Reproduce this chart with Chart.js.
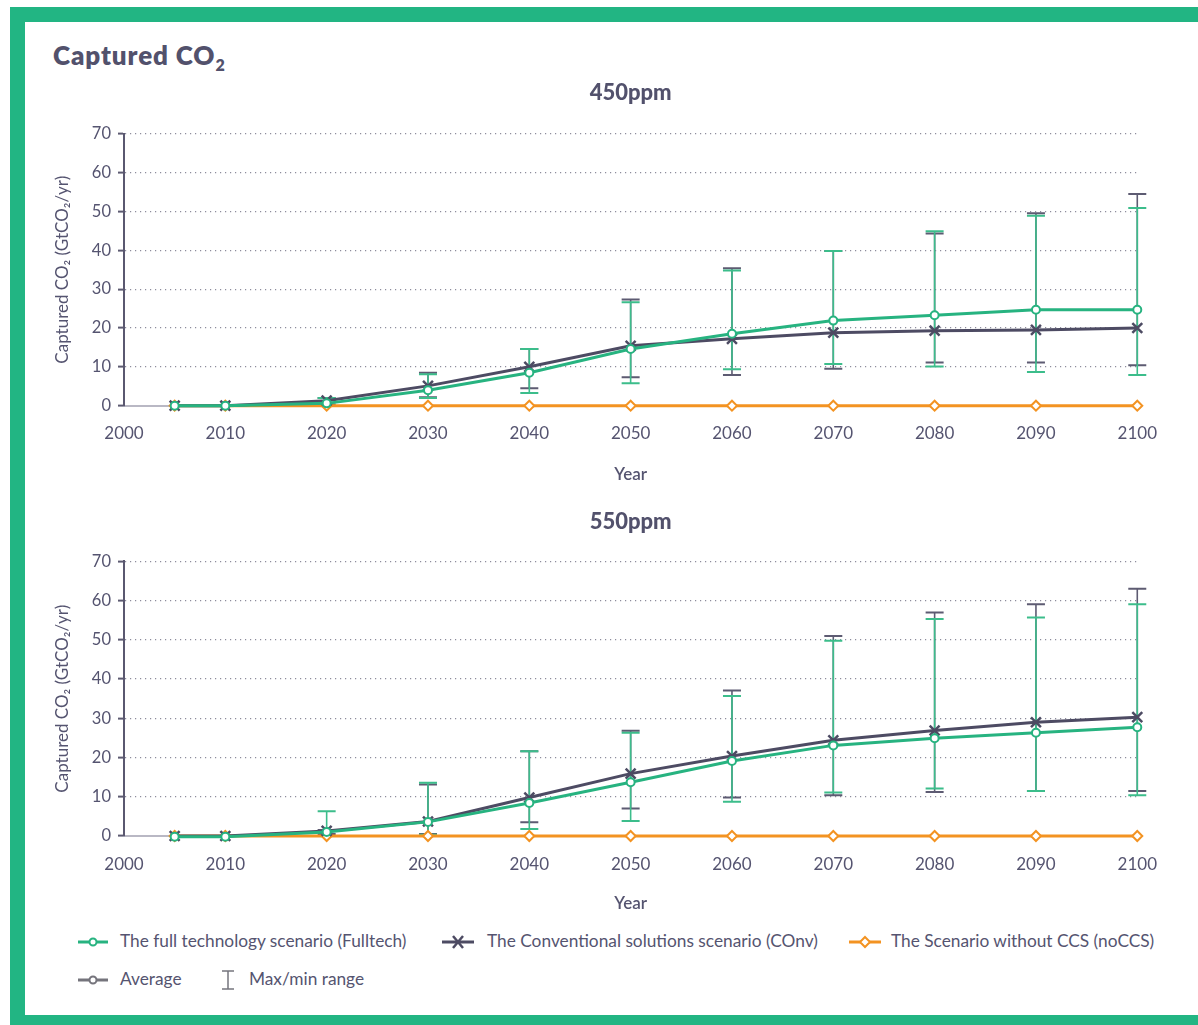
<!DOCTYPE html>
<html><head><meta charset="utf-8">
<script src="https://cdn.jsdelivr.net/npm/chart.js@4.4.1/dist/chart.umd.min.js"></script>
<style>
html,body{margin:0;padding:0;background:#fff;}
body{width:1198px;height:1025px;position:relative;overflow:hidden;font-family:Lato,"Noto Sans",sans-serif;color:#555470;}
#frame{position:absolute;left:10px;top:7px;width:1200px;height:1030px;background:#22b583;}
#inner{position:absolute;left:25px;top:22px;width:1190px;height:993px;background:#fff;}
#mainTitle{position:absolute;left:53px;top:38px;font-weight:800;font-size:26px;letter-spacing:0.9px;line-height:34px;color:#52516c;white-space:nowrap;}
#mainTitle sub{font-size:16px;vertical-align:-6px;line-height:0;}
canvas{position:absolute;}
.lg{position:absolute;font-size:17.3px;line-height:20px;white-space:nowrap;color:#555470;}
.ic{position:absolute;}
</style></head>
<body>
<div id="frame"></div>
<div id="inner"></div>
<div id="mainTitle">Captured CO<sub>2</sub></div>
<canvas id="c450" width="1163" height="420" style="left:12px;top:70px;"></canvas>
<canvas id="c550" width="1163" height="420" style="left:12px;top:499px;"></canvas>

<svg class="ic" style="left:78px;top:932px" width="30" height="20"><line x1="0" y1="10" x2="30" y2="10" stroke="#27b380" stroke-width="3"/><circle cx="15" cy="10" r="3.5" fill="#fff" stroke="#27b380" stroke-width="2"/></svg>
<div class="lg" style="left:120px;top:931px">The full technology scenario (Fulltech)</div>
<svg class="ic" style="left:442px;top:932px" width="32" height="20"><line x1="0" y1="10" x2="32" y2="10" stroke="#4d4b63" stroke-width="3"/><line x1="11" y1="4" x2="21" y2="16" stroke="#4d4b63" stroke-width="2.5"/><line x1="21" y1="4" x2="11" y2="16" stroke="#4d4b63" stroke-width="2.5"/></svg>
<div class="lg" style="left:487px;top:931px">The Conventional solutions scenario (COnv)</div>
<svg class="ic" style="left:849px;top:932px" width="32" height="20"><line x1="0" y1="10" x2="32" y2="10" stroke="#f39322" stroke-width="3"/><polygon points="16,5 21,10 16,15 11,10" fill="#fff" stroke="#f39322" stroke-width="2"/></svg>
<div class="lg" style="left:891px;top:931px">The Scenario without CCS (noCCS)</div>
<svg class="ic" style="left:78px;top:970px" width="30" height="20"><line x1="0" y1="10" x2="30" y2="10" stroke="#75747c" stroke-width="3"/><circle cx="15" cy="10" r="3.5" fill="#fff" stroke="#75747c" stroke-width="2"/></svg>
<div class="lg" style="left:120px;top:969px">Average</div>
<svg class="ic" style="left:221px;top:969px" width="14" height="22"><line x1="7" y1="2" x2="7" y2="20" stroke="#75747c" stroke-width="1.5"/><line x1="1" y1="2" x2="13" y2="2" stroke="#75747c" stroke-width="1.5"/><line x1="1" y1="20" x2="13" y2="20" stroke="#75747c" stroke-width="1.5"/></svg>
<div class="lg" style="left:249px;top:969px">Max/min range</div>

<script>
// ---- data ----
const years = [2005, 2010, 2020, 2030, 2040, 2050, 2060, 2070, 2080, 2090, 2100];

const full450 = [0, 0, 0.6, 4.0, 8.5, 14.6, 18.5, 21.9, 23.3, 24.7, 24.7];
const conv450 = [0, 0, 1.3, 5.1, 10.0, 15.4, 17.2, 18.8, 19.3, 19.5, 20.0];
const nocc450 = [0, 0, 0, 0, 0, 0, 0, 0, 0, 0, 0];
const full450Max = [null, null, 2.0, 8.1, 14.6, 26.6, 34.8, 39.8, 44.9, 48.9, 50.9];
const full450Min = [null, null, 0.0, 2.0, 3.3, 5.8, 9.4, 10.7, 10.1, 8.7, 7.9];
const conv450Max = [null, null, 2.0, 8.5, 14.6, 27.3, 35.4, 39.8, 44.3, 49.5, 54.5];
const conv450Min = [null, null, 0.3, 2.2, 4.5, 7.3, 7.9, 9.5, 11.1, 11.1, 10.4];

const full550 = [-0.2, -0.2, 1.0, 3.6, 8.4, 13.7, 19.1, 23.1, 24.9, 26.3, 27.7];
const conv550 = [0, 0, 1.3, 3.7, 9.8, 15.9, 20.4, 24.4, 26.9, 29.0, 30.3];
const nocc550 = [0, 0, 0, 0, 0, 0, 0, 0, 0, 0, 0];
const full550Max = [null, null, 6.3, 13.6, 21.6, 26.3, 35.7, 49.8, 55.3, 55.7, 59.1];
const full550Min = [null, null, 0.0, 0.3, 1.8, 3.8, 8.7, 11.1, 12.1, 11.5, 10.4];
const conv550Max = [null, null, 1.5, 13.1, 21.6, 26.8, 37.1, 51.0, 57.0, 59.1, 63.0];
const conv550Min = [null, null, 0.5, 0.5, 3.5, 7.0, 9.8, 10.4, 11.2, 11.5, 11.5];

const yTicks = [0, 10, 20, 30, 40, 50, 60, 70];
const xTickYears = [2000, 2010, 2020, 2030, 2040, 2050, 2060, 2070, 2080, 2090, 2100];
const seriesNames = ['The full technology scenario (Fulltech)', 'The Conventional solutions scenario (COnv)', 'The Scenario without CCS (noCCS)'];
const yTitle = 'Captured CO\u2082 (GtCO\u2082/yr)';

// ---- styles ----
const GREEN = '#27b380', GREEN_BAR = '#3cbd8b', DARK = '#4d4b63', DARK_BAR = '#5d5b72', ORANGE = '#f39322', TEXT = '#555470';

const errorBars = {
  id: 'errorBars',
  beforeDatasetsDraw(chart, args, opts) {
    const {ctx, scales: {x, y}} = chart;
    const groups = opts.groups || [];
    ctx.save();
    groups.forEach(g => {
      ctx.strokeStyle = g.color;
      for (let i = 0; i < years.length; i++) {
        if (g.max[i] == null) continue;
        const px = x.getPixelForValue(years[i]);
        const yt = y.getPixelForValue(g.max[i]);
        const yb = y.getPixelForValue(g.min[i]);
        ctx.lineWidth = 1.6;
        ctx.beginPath(); ctx.moveTo(px, yt); ctx.lineTo(px, yb); ctx.stroke();
        ctx.lineWidth = 2;
        ctx.beginPath();
        ctx.moveTo(px - 9, yt); ctx.lineTo(px + 9, yt);
        ctx.moveTo(px - 9, yb); ctx.lineTo(px + 9, yb);
        ctx.stroke();
      }
    });
    ctx.restore();
  }
};

function pts(arr) { return years.map((yr, i) => ({x: yr, y: arr[i]})); }

function makeChart(id, title, full, conv, nocc, fMax, fMin, cMax, cMin, titlePad, xH, padB) {
  return new Chart(document.getElementById(id), {
    type: 'line',
    data: {
      datasets: [
        {label: seriesNames[0], data: pts(full), borderColor: GREEN, backgroundColor: '#fff', borderWidth: 3,
         pointStyle: 'circle', pointRadius: 4, pointBorderWidth: 2, pointBackgroundColor: '#fff', pointBorderColor: GREEN, clip: false},
        {label: seriesNames[1], data: pts(conv), borderColor: DARK, backgroundColor: DARK, borderWidth: 3,
         pointStyle: 'crossRot', pointRadius: 7, pointBorderWidth: 2.5, pointBorderColor: DARK, clip: false},
        {label: seriesNames[2], data: pts(nocc), borderColor: ORANGE, backgroundColor: '#fff', borderWidth: 3,
         pointStyle: 'rectRot', pointRadius: 5, pointBorderWidth: 2, pointBackgroundColor: '#fff', pointBorderColor: ORANGE, clip: false}
      ]
    },
    options: {
      responsive: false, animation: false, devicePixelRatio: 1,
      layout: {padding: {left: 0, right: 31, top: 0, bottom: padB}},
      plugins: {
        legend: {display: false}, tooltip: {enabled: false},
        title: {display: true, text: title, fullSize: false, color: '#52516c',
                font: {family: 'Lato', size: 22, weight: '900'}, padding: titlePad},
        errorBars: {groups: [
          {color: DARK_BAR, max: cMax, min: cMin},
          {color: GREEN_BAR, max: fMax, min: fMin}
        ]}
      },
      scales: {
        x: {
          type: 'linear', min: 2000, max: 2100,
          afterBuildTicks: s => { s.ticks = xTickYears.map(v => ({value: v})); },
          afterFit: s => { s.height = xH; },
          grid: {display: false, drawTicks: false},
          border: {display: true, color: '#b9b8c4', width: 2},
          ticks: {color: TEXT, font: {family: 'Lato', size: 17}, padding: 18, maxRotation: 0,
                  callback: v => String(v)},
          title: {display: true, text: 'Year', color: TEXT, font: {family: 'Lato', size: 17, weight: '600'}, padding: {top: 0, bottom: 0}}
        },
        y: {
          min: 0, max: 70,
          afterBuildTicks: s => { s.ticks = yTicks.map(v => ({value: v})); },
          afterFit: s => { s.width = 112; },
          grid: {color: '#8d8c9c', lineWidth: 1.2, drawTicks: true, tickLength: 6, tickColor: DARK_BAR, tickWidth: 2, tickBorderDash: []},
          border: {display: true, color: '#5a5870', width: 2, dash: [1.2, 3.8]},
          ticks: {color: TEXT, font: {family: 'Lato', size: 16.5}, padding: 7},
          title: {display: true, text: yTitle, color: TEXT, font: {family: 'Lato', size: 17}, padding: {top: 40, bottom: 0}}
        }
      }
    },
    plugins: [errorBars]
  });
}

makeChart('c450', '450ppm', full450, conv450, nocc450, full450Max, full450Min, conv450Max, conv450Min,
  {top: 10, bottom: 27.3}, 79, 5.3);
makeChart('c550', '550ppm', full550, conv550, nocc550, full550Max, full550Min, conv550Max, conv550Min,
  {top: 10, bottom: 26}, 78, 5);
</script>
</body></html>
